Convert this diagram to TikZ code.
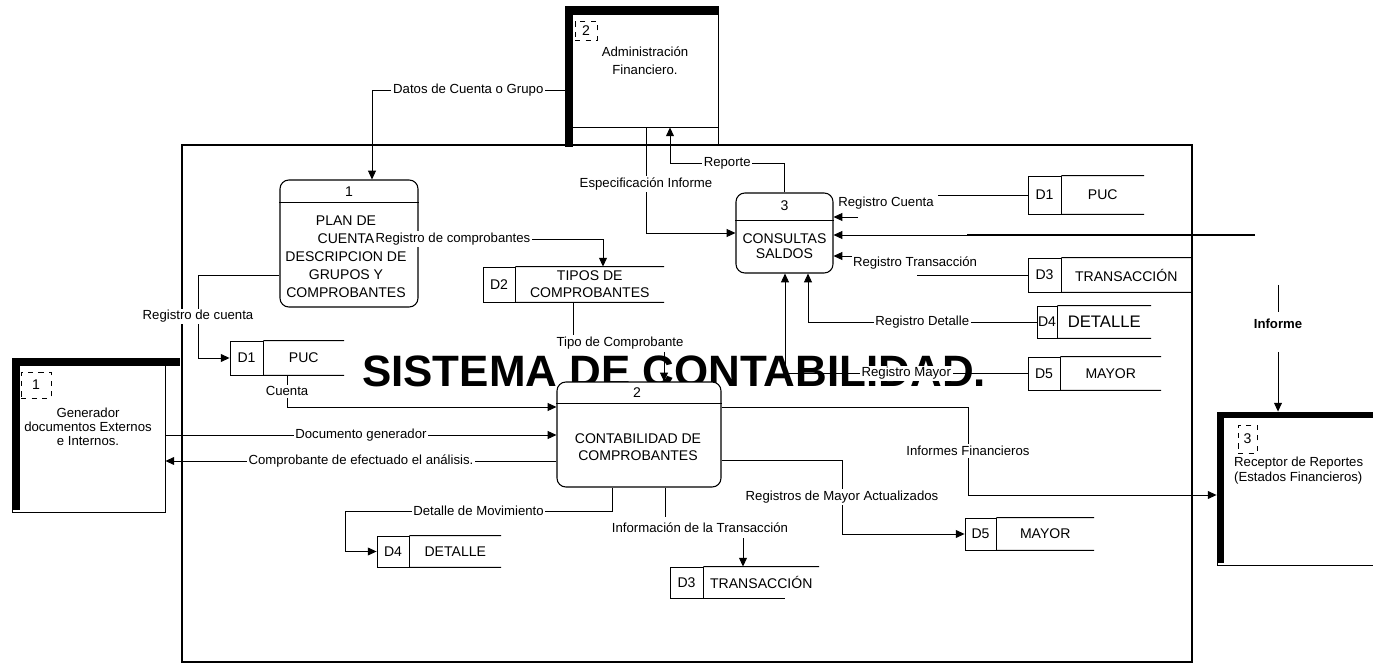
\documentclass[tikz,border=0pt]{standalone}
\usepackage{fontspec}
\setmainfont{Liberation Sans}
\usetikzlibrary{arrows.meta,positioning}

\tikzset{
  flow/.style={-{Triangle[length=5pt,width=4.5pt]}, line width=0.5pt},
  line/.style={line width=0.5pt},
  lbl/.style={fill=white, inner sep=1pt, font=\fontsize{7.5}{8}\selectfont},
  process/.style={draw, rounded corners=5pt, fill=white, line width=0.6pt},
  storeid/.style={draw, fill=white, inner sep=0pt, line width=0.5pt, font=\fontsize{8}{9}\selectfont},
  storename/.style={inner sep=0pt, font=\fontsize{8}{9}\selectfont},
  entity/.style={draw, fill=white, line width=0.5pt},
  entityid/.style={draw, dashed, inner sep=0pt, line width=0.4pt, font=\fontsize{8}{9}\selectfont},
}

\begin{document}
\begin{tikzpicture}[x=0.02cm, y=-0.02cm]

\useasboundingbox (0,0) rectangle (1373,665);

	% System boundary and title
	\draw[line width=1.4pt] (182,145) rectangle (1192,662);
	\node[font=\fontsize{25}{25}\selectfont\bfseries] (title) at (674,371) {SISTEMA DE CONTABILIDAD.};

	% External entities
	\node[entity, minimum width=3.06cm, minimum height=2.42cm] (e2) at (641.5,66.5) {};
	\fill (565,6) rectangle (718,15);
	\fill (565,6) rectangle (573,147);
	\draw[line] (718,127) -- (718,145);
	\node[entityid, minimum width=0.44cm, minimum height=0.38cm] (e2id) at (586,30.5) {2};
	\node[font=\fontsize{7.5}{10.2}\selectfont, align=center] (e2txt) at (645,61) {Administración\\Financiero.};

	\node[entity, minimum width=3.06cm, minimum height=3.08cm] (e1) at (88.5,435) {};
	\fill (12,358) rectangle (180,366);
	\fill (12,358) rectangle (20,510);
	\node[entityid, minimum width=0.6cm, minimum height=0.52cm] (e1id) at (36,385) {1};
	\node[font=\fontsize{7.5}{7.9}\selectfont, align=center] (e1txt) at (88,427) {Generador\\documentos Externos\\e Internos.};

	\node[entity, minimum width=3.26cm, minimum height=3.06cm] (e3) at (1298.5,488.5) {};
	\fill (1217,412) rectangle (1380,418);
	\fill (1217,412) rectangle (1224,563);
	\node[entityid, minimum width=0.38cm, minimum height=0.56cm] (e3id) at (1247.5,439) {3};
	\node[font=\fontsize{7.5}{8.5}\selectfont, align=left, anchor=west] (e3txt) at (1228,470.5) {Receptor de Reportes\\(Estados Financieros)};

	% Processes
	\node[process, minimum width=2.76cm, minimum height=2.54cm] (p1) at (349,243.5) {};
	\draw[line] (p1.west |- 0,202) -- (p1.east |- 0,202);
	\node[font=\fontsize{8}{9}\selectfont] (p1id) at (349,192) {1};
	\node[font=\fontsize{8}{10.2}\selectfont, align=center] (p1txt) at (346,257) {PLAN DE\\CUENTA\\DESCRIPCION DE\\GRUPOS Y\\COMPROBANTES};

	\node[process, minimum width=1.94cm, minimum height=1.6cm] (p3) at (784.5,233) {};
	\draw[line] (p3.west |- 0,220) -- (p3.east |- 0,220);
	\node[font=\fontsize{8}{9}\selectfont] (p3id) at (784.5,206) {3};
	\node[font=\fontsize{8}{8.5}\selectfont, align=center] (p3txt) at (784.5,246) {CONSULTAS\\SALDOS};

	\node[process, minimum width=3.28cm, minimum height=2.1cm] (p2) at (639,434.5) {};
	\draw[line] (p2.west |- 0,403) -- (p2.east |- 0,403);
	\node[font=\fontsize{8}{9}\selectfont] (p2id) at (637,393) {2};
	\node[font=\fontsize{8}{9.6}\selectfont, align=center] (p2txt) at (638,447) {CONTABILIDAD DE\\COMPROBANTES};

	% Data stores
	\node[storeid, minimum width=0.66cm, minimum height=0.68cm] (d1l) at (246.5,358) {D1};
	\node[storename, minimum width=1.6cm, minimum height=0.68cm, right=0pt of d1l] (d1l-n) {PUC};

	\node[storeid, minimum width=0.64cm, minimum height=0.7cm] (d2) at (499,284.5) {D2};
	\node[storename, minimum width=2.96cm, minimum height=0.7cm, right=0pt of d2, align=center, font=\fontsize{8}{9.6}\selectfont] (d2-n) {TIPOS DE\\COMPROBANTES};

	\node[storeid, minimum width=0.66cm, minimum height=0.76cm] (d1r) at (1044.5,195) {D1};
	\node[storename, minimum width=1.64cm, minimum height=0.76cm, right=0pt of d1r] (d1r-n) {PUC};

	\node[storeid, minimum width=0.66cm, minimum height=0.68cm] (d3r) at (1044.5,275) {D3};
	\node[storename, minimum width=2.58cm, minimum height=0.68cm, right=0pt of d3r] (d3r-n) {TRANSACCIÓN};

	\node[storeid, minimum width=0.4cm, minimum height=0.64cm] (d4r) at (1047,322) {D4};
	\node[storename, minimum width=1.86cm, minimum height=0.64cm, right=0pt of d4r, font=\fontsize{9.5}{10}\selectfont] (d4r-n) {DETALLE};

	\node[storeid, minimum width=0.64cm, minimum height=0.66cm] (d5r) at (1044,373.5) {D5};
	\node[storename, minimum width=2cm, minimum height=0.66cm, right=0pt of d5r] (d5r-n) {MAYOR};

	\node[storeid, minimum width=0.64cm, minimum height=0.62cm] (d4b) at (393,551.5) {D4};
	\node[storename, minimum width=1.82cm, minimum height=0.62cm, right=0pt of d4b] (d4b-n) {DETALLE};

	\node[storeid, minimum width=0.66cm, minimum height=0.62cm] (d3b) at (686.5,582.5) {D3};
	\node[storename, minimum width=2.3cm, minimum height=0.62cm, right=0pt of d3b] (d3b-n) {TRANSACCIÓN};

	\node[storeid, minimum width=0.62cm, minimum height=0.64cm] (d5b) at (980.5,534) {D5};
	\node[storename, minimum width=1.94cm, minimum height=0.64cm, right=0pt of d5b] (d5b-n) {MAYOR};

	\foreach \s in {d1l,d2,d1r,d3r,d4r,d5r,d4b,d5b} {
		\draw[line] (\s.north east) -- (\s-n.north east);
		\draw[line] (\s.south east) -- (\s-n.south east);
	}
	\draw[line] (d3b.north east) -- (d3b-n.north east);
	\draw[line] (d3b.south east) -- (785,0 |- d3b.south);

	% Flows of process 1
	\draw[flow] (e2.west |- 0,90) -| node[lbl, pos=0.25] {Datos de Cuenta o Grupo} (372,0 |- p1.north);
	\draw[flow] (p1.east |- 0,239) -| (603,0 |- d2.north);
	\node[lbl] (rclbl1) at (453,239) {Registro de comprobantes};
	\draw[flow] (p1.west |- 0,275) -| node[lbl, pos=0.75] {Registro de cuenta} (198,0 |- d1l.west) -- (d1l.west);

	% Flows of process 3
	\draw[flow] (646,0 |- e2.south) |- node[lbl, pos=0.27] {Especificación Informe} (p3.west);
	\draw[flow] (p3.north) -- (p3.north |- 0,163) -- node[lbl] {Reporte} (670,163) -- (670,0 |- e2.south);

	\coordinate (rcend) at (938,195);
	\coordinate (rctip) at (858,217);
	\draw[line] (d1r.west) -- (rcend);
	\node[lbl, fill=none] (rclbl) at (886,203) {Registro Cuenta};
	\draw[flow] (rctip) -- (p3.east |- rctip);

	\coordinate (infend) at (1255,235);
	\draw[flow] (infend) -- (p3.east |- infend);
	\draw[line width=1.2pt] (967,235) -- (infend);
	\coordinate (infa) at (1278,285);
	\coordinate (infb) at (1278,312);
	\coordinate (infc) at (1278,352);
	\draw[line] (infa) -- (infb);
	\node[lbl, fill=none, font=\fontsize{7.5}{8}\selectfont\bfseries] (inflbl) at (1278,324) {Informe};
	\draw[flow] (infc) -- (infc |- e3.north);

	\coordinate (rtend) at (917,275);
	\coordinate (rttip) at (852,256);
	\draw[line] (d3r.west) -- (rtend);
	\node[lbl, fill=none] (rtlbl) at (915,263) {Registro Transacción};
	\draw[flow] (rttip) -- (p3.east |- rttip);

	\draw[flow] (d4r.west) -| node[lbl, pos=0.25] {Registro Detalle} (808,0 |- p3.south);
	\draw[flow] (d5r.west) -| node[lbl, pos=0.25] {Registro Mayor} (785,0 |- p3.south);

	% Flows of process 2
	\coordinate (tcend) at (573,335);
	\coordinate (tctail) at (664,352);
	\draw[line] (573,0 |- d2.south) -- (tcend);
	\node[lbl, fill=none] (tclbl) at (620,343) {Tipo de Comprobante};
	\draw[flow] (tctail) -- (tctail |- p2.north);

	\draw[flow] (287,0 |- d1l.south) |- node[lbl, pos=0.25] {Cuenta} (p2.west |- 0,407);
	\draw[flow] (e1.east |- 0,435) -- node[lbl] {Documento generador} (p2.west |- 0,435);
	\draw[flow] (p2.west |- 0,461) -- node[lbl] {Comprobante de efectuado el análisis.} (e1.east |- 0,461);

	\draw[flow] (p2.east |- 0,407) -| node[lbl, pos=0.75] {Informes Financieros} (968,495) -- (e3.west |- 0,495);
	\draw[flow] (p2.east |- 0,460) -| node[lbl, pos=0.75] {Registros de Mayor Actualizados} (842,0 |- d5b.west) -- (d5b.west);
	\draw[flow] (612,0 |- p2.south) |- node[lbl, pos=0.75] {Detalle de Movimiento} (345,511) |- (d4b.west);

	\coordinate (itend) at (665,517);
	\coordinate (ittail) at (743,538);
	\draw[line] (665,0 |- p2.south) -- (itend);
	\node[lbl, fill=none] (itlbl) at (700,528) {Información de la Transacción};
	\draw[flow] (ittail) -- (ittail |- d3b.north);

\end{tikzpicture}
\end{document}
